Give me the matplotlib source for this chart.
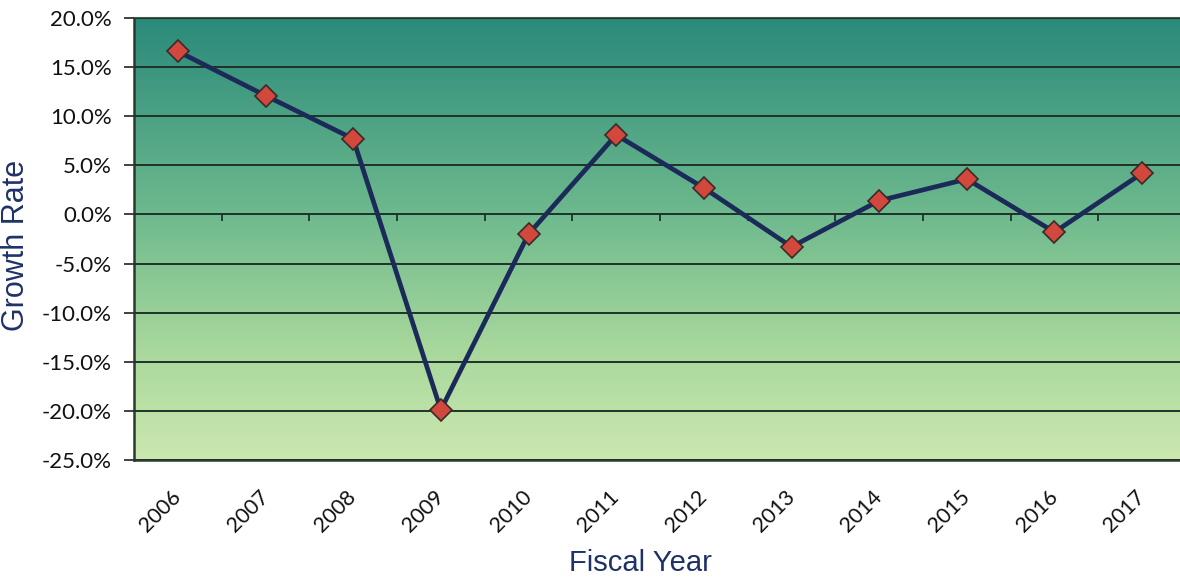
import numpy as np
import matplotlib
matplotlib.use("Agg")
import matplotlib.pyplot as plt
from matplotlib.colors import LinearSegmentedColormap
from matplotlib.ticker import PercentFormatter

plt.rcParams["axes.unicode_minus"] = False

years = ["2006", "2007", "2008", "2009", "2010", "2011", "2012",
         "2013", "2014", "2015", "2016", "2017"]
growth = [16.6, 12.1, 7.7, -19.9, -2.0, 8.1, 2.7, -3.3, 1.4, 3.6, -1.8, 4.2]
y_ticks = [20, 15, 10, 5, 0, -5, -10, -15, -20, -25]

W, H = 1180, 580
fig = plt.figure(figsize=(W / 100, H / 100), dpi=100)
ax = fig.add_axes([134 / W, 1 - 460 / H, (1186 - 134) / W, (460 - 18) / H])

x = np.arange(len(years))
ax.set_xlim(-0.5, len(years) - 0.5)
ax.set_ylim(min(y_ticks), max(y_ticks))

# gradient background
cmap = LinearSegmentedColormap.from_list(
    "bg", [(0.0, "#cbe8b0"), (0.25, "#a8d89c"), (0.55, "#6fba8e"), (1.0, "#2a8a7a")])
grad = np.linspace(0, 1, 256).reshape(-1, 1)
ax.imshow(grad, aspect="auto", cmap=cmap, origin="lower",
          extent=[-0.5, len(years) - 0.5, min(y_ticks), max(y_ticks)], zorder=0)

ax.set_yticks(y_ticks)
ax.yaxis.set_major_formatter(PercentFormatter(decimals=1))
ax.grid(axis="y", color="#1f3328", linewidth=1.4, zorder=1)
ax.set_axisbelow(False)

# category boundary ticks on the zero line
bounds = x[:-1] + 0.5
ax.vlines(bounds, -0.7, 0, color="#1f3328", linewidth=1.3, zorder=2)

ax.plot(x, growth, color="#1c2a5a", linewidth=3.4, zorder=3)
ax.plot(x, growth, linestyle="none", marker="D", markersize=11,
        markerfacecolor="#d2483c", markeredgecolor="#3a2a2a",
        markeredgewidth=1.2, zorder=4)

ax.set_xticks(x)
ax.set_xticklabels(years, rotation=45, ha="right", va="center",
                   rotation_mode="anchor",
                   fontsize=15.5, family="Lato", color="#111111")
ax.tick_params(axis="x", length=0, pad=24)
ax.tick_params(axis="y", length=7, width=1.3, color="#333333", pad=9,
               labelsize=16, labelcolor="#111111")
for lbl in ax.get_yticklabels():
    lbl.set_family("Lato")

for side in ["left", "bottom"]:
    ax.spines[side].set_color("#2b3a2b")
    ax.spines[side].set_linewidth(1.8)
ax.spines["top"].set_color("#4a5a4a")
ax.spines["top"].set_linestyle((0, (2, 1)))
ax.spines["top"].set_linewidth(1.5)
ax.spines["right"].set_visible(False)

fig.text(16 / W, 1 - 245 / H, "Growth Rate", rotation=90, ha="center",
         va="center", fontsize=22, color="#1f3268", family="Liberation Sans")
fig.text(640 / W, 1 - 563 / H, "Fiscal Year", ha="center", va="center",
         fontsize=21, color="#1f3268", family="Liberation Sans")

fig.savefig("out.png", dpi=100)
